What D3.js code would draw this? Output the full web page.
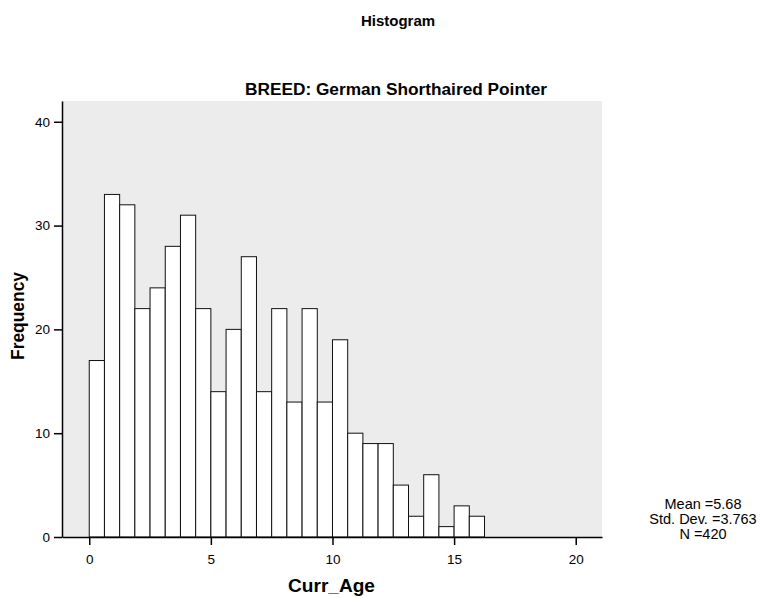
<!DOCTYPE html>
<html>
<head>
<meta charset="utf-8">
<script src="https://cdn.jsdelivr.net/npm/d3@7"></script>
<style>
  body { margin: 0; background: #fff; }
  svg text { font-family: "Liberation Sans", Arial, sans-serif; fill: #000; }
</style>
</head>
<body>
<svg id="chart" width="763" height="598"></svg>
<script>
// histogram of Curr_Age, bins of width 0.625 starting at 0
var binWidth = 0.625;
var counts = [17, 33, 32, 22, 24, 28, 31, 22, 14, 20, 27, 14, 22,
              13, 22, 13, 19, 10, 9, 9, 5, 2, 6, 1, 3, 2];
var xTicks = [0, 5, 10, 15, 20];
var yTicks = [0, 10, 20, 30, 40];
var statLines = ["Mean =5.68", "Std. Dev. =3.763", "N =420"];

var svg = d3.select("#chart");
var margin = {left: 62, right: 161, top: 101, bottom: 61};
var width = 763, height = 598;

var x = d3.scaleLinear()
  .domain([-1.12, 21.08])
  .range([margin.left, width - margin.right]);
var y = d3.scaleLinear()
  .domain([0, 42])
  .range([height - margin.bottom, margin.top]);

var bins = counts.map((c, i) => ({x0: i * binWidth, x1: (i + 1) * binWidth, n: c}));

// plot background
svg.append("rect")
  .attr("x", x.range()[0])
  .attr("y", y.range()[1])
  .attr("width", x.range()[1] - x.range()[0])
  .attr("height", y.range()[0] - y.range()[1])
  .attr("fill", "#ececec");

svg.append("g")
  .selectAll("rect")
  .data(bins)
  .join("rect")
    .attr("x", d => x(d.x0))
    .attr("y", d => y(d.n))
    .attr("width", d => x(d.x1) - x(d.x0))
    .attr("height", d => y(0) - y(d.n))
    .attr("fill", "#fff")
    .attr("stroke", "#111")
    .attr("stroke-width", 1);

var xAxis = svg.append("g")
  .attr("transform", `translate(0,${y(0)})`)
  .call(d3.axisBottom(x).tickValues(xTicks).tickSize(8).tickSizeOuter(0).tickPadding(9));
var yAxis = svg.append("g")
  .attr("transform", `translate(${x.range()[0]},0)`)
  .call(d3.axisLeft(y).tickValues(yTicks).tickSize(8).tickSizeOuter(0).tickPadding(4));

[xAxis, yAxis].forEach(function(g) {
  g.select(".domain").attr("stroke", "#000").attr("stroke-width", 1.5);
  g.selectAll(".tick line").attr("stroke", "#000").attr("stroke-width", 1.5);
  g.selectAll(".tick text")
    .attr("font-size", 13.5)
    .attr("font-family", "Liberation Sans, Arial, sans-serif")
    .attr("fill", "#000");
});

svg.append("text")
  .attr("x", 398).attr("y", 26)
  .attr("text-anchor", "middle")
  .attr("font-size", 15).attr("font-weight", "bold")
  .text("Histogram");

svg.append("text")
  .attr("x", 396).attr("y", 95)
  .attr("text-anchor", "middle")
  .attr("font-size", 16).attr("font-weight", "bold")
  .attr("textLength", 302).attr("lengthAdjust", "spacingAndGlyphs")
  .text("BREED: German Shorthaired Pointer");

svg.append("text")
  .attr("transform", "translate(24,316) rotate(-90)")
  .attr("text-anchor", "middle")
  .attr("font-size", 17.5).attr("font-weight", "bold")
  .attr("textLength", 88).attr("lengthAdjust", "spacingAndGlyphs")
  .text("Frequency");

svg.append("text")
  .attr("x", 331.5).attr("y", 592)
  .attr("text-anchor", "middle")
  .attr("font-size", 17.5).attr("font-weight", "bold")
  .attr("textLength", 87).attr("lengthAdjust", "spacingAndGlyphs")
  .text("Curr_Age");

svg.append("g")
  .selectAll("text")
  .data(statLines)
  .join("text")
    .attr("x", 703)
    .attr("y", (d, i) => 509 + i * 15)
    .attr("text-anchor", "middle")
    .attr("font-size", 14.5)
    .text(d => d);
</script>
</body>
</html>
